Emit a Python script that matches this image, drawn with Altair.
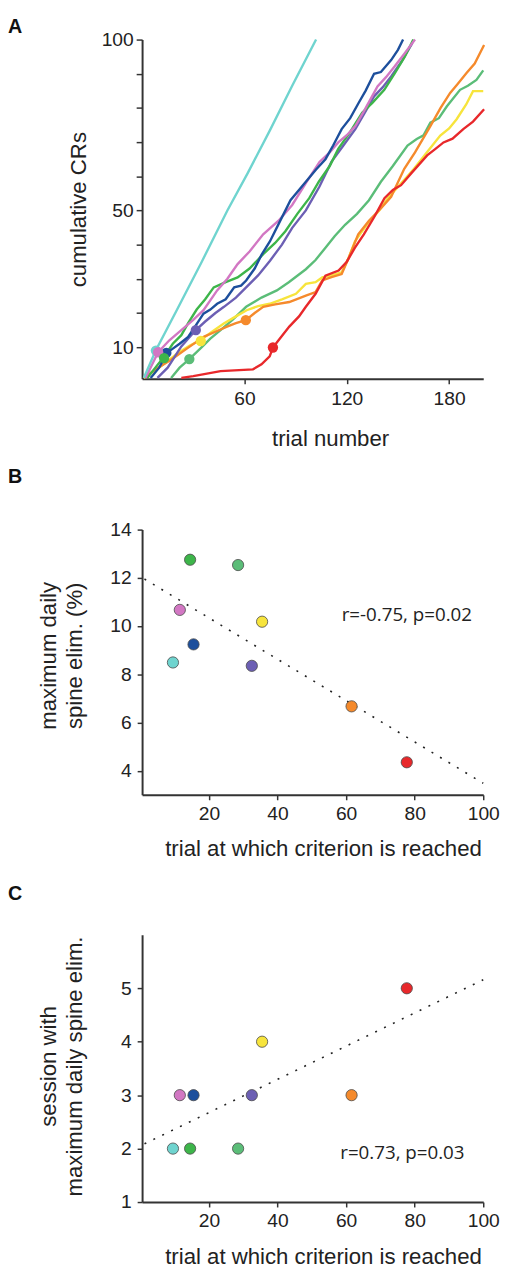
import altair as alt
import pandas as pd

# ---------------- data ----------------
animals = ["cyan", "blue", "pink", "green", "purple", "seagreen", "yellow", "orange", "red"]
colors = ["#6fd4cf", "#1d4f9c", "#d277c3", "#3db54a", "#6c5fb4", "#5bbd78", "#f7e43c", "#f58a2c", "#e8282b"]

# Panel A: cumulative CR curves (trial, cumulative CRs)
cyan_t = [1, 8, 20, 35, 50, 62, 75, 88, 102]
cyan_c = [1, 9, 20.5, 35, 50, 61, 73.5, 86.5, 100]
blue_t = [5, 10, 15, 17, 22, 27, 31, 36, 40, 44, 49, 54, 58, 61, 66, 70, 75, 80, 87, 96, 102, 107.5, 112, 117, 122, 127, 131, 136, 140, 146, 150, 153]
blue_c = [1, 4, 8.5, 9.2, 11, 13, 16, 19.8, 21, 22.7, 24, 27.5, 28, 29.5, 33, 37, 41, 46, 53, 58.4, 62, 65, 69, 73.8, 77, 81.5, 85, 90, 90.5, 94, 97, 100]
pink_t = [2, 9.4, 16, 23, 30, 36, 44, 50, 56, 63, 71, 80, 88, 96, 104, 110, 115, 120, 125, 130, 138, 143, 148, 154, 160]
pink_c = [1, 8.5, 12, 15, 18, 20.8, 26.6, 30, 34.3, 38, 43, 47, 51.6, 58, 64.2, 67, 69.9, 72, 74.7, 79, 86.3, 89, 92.1, 96, 100]
green_t = [3, 13, 18, 23, 27, 32, 37, 42, 49, 56, 63, 71, 78, 84, 91, 98, 103.6, 110, 115, 122, 129, 135, 142, 148, 154, 159]
green_c = [1, 7.3, 11, 13.5, 17, 21, 24, 27.5, 29, 30.4, 33, 37.2, 40.5, 43.9, 49, 53.6, 58.4, 63, 68, 73, 78.6, 81.5, 85.3, 90, 95, 100]
purple_t = [9, 15, 23, 31.5, 37, 43, 48, 55, 61, 68, 75, 82, 88, 96, 104, 111, 118, 125, 131, 136, 141, 146, 152, 158.5]
purple_c = [1, 4, 10.2, 15, 17.5, 20, 21.8, 24.5, 27.5, 31, 35.3, 40, 44.9, 50, 57, 64.2, 69, 73.8, 79, 83.4, 86, 89.2, 93.5, 99]
seagreen_t = [17, 22, 27.7, 35, 40, 46, 53, 61, 70, 79, 86, 96, 101.7, 107.5, 113, 119, 126, 133, 140, 147, 155.6, 161, 165, 169, 174, 178.7, 186.4, 191, 196, 200]
seagreen_c = [1, 4, 6.5, 10, 12.5, 15, 18, 21.8, 24.5, 26.6, 29, 32.8, 35.5, 39.1, 42.5, 45.8, 49, 53, 58.4, 63, 69, 70.9, 72, 75.7, 77, 80.5, 85.3, 86.5, 88.2, 91]
yellow_t = [1, 10, 21, 28, 34.4, 41, 47.9, 55, 61.3, 68, 74.8, 82, 90.2, 96, 101.7, 105.6, 111, 117, 121, 124.8, 132, 139, 144, 152, 159.4, 167, 174.8, 180, 184.4, 190, 194, 200]
yellow_c = [1, 4, 8.3, 10.5, 12.1, 14.5, 16.9, 19, 20.8, 22, 22.7, 24, 25.6, 28.5, 29, 30.4, 31, 31.9, 36, 41, 46, 50, 53.6, 58, 62.2, 67, 71.9, 74, 76.7, 81, 84.9, 84.9]
orange_t = [1, 8, 17, 26, 36.4, 43, 49.8, 55, 60.8, 66, 71, 78, 86.3, 96, 101.7, 105.6, 111, 117, 121, 126.7, 133, 140.2, 146, 153.7, 160, 169, 175, 180.6, 185, 190.2, 195, 200.5]
orange_c = [1, 3.5, 6.3, 9.5, 13.1, 14.5, 16, 17, 17.9, 20, 21.8, 22.5, 23.2, 25.1, 26.1, 29.5, 30.5, 31.4, 36, 43, 47, 50.7, 54, 62.2, 67, 74.7, 80, 84.4, 87, 90.2, 93, 98.4]
red_t = [23, 30, 46, 65, 70, 74.8, 76.7, 80, 86.3, 92, 96, 101.7, 107.5, 115.2, 120, 124.8, 130, 136, 142.1, 147, 151.8, 158, 167.1, 172, 176.7, 182, 188.3, 194, 200.5]
red_c = [1, 1.5, 3, 3.5, 5, 7.3, 9.9, 12, 16, 19, 21.8, 25.6, 30.9, 32.4, 35, 39.1, 43, 48, 53.6, 56, 57.4, 61, 66.1, 68, 69.9, 71, 73.8, 76, 79.6]

curves = {
    "cyan": (cyan_t, cyan_c), "blue": (blue_t, blue_c), "pink": (pink_t, pink_c),
    "green": (green_t, green_c), "purple": (purple_t, purple_c), "seagreen": (seagreen_t, seagreen_c),
    "yellow": (yellow_t, yellow_c), "orange": (orange_t, orange_c), "red": (red_t, red_c),
}
draw_order = ["seagreen", "yellow", "orange", "red", "purple", "green", "pink", "blue", "cyan"]

# criterion markers on the curves (panel A)
crit_dot_trial = [8.1, 14.2, 9.4, 12.9, 31.5, 27.7, 34.4, 60.8, 76.7]
crit_dot_cr = [9.0, 8.3, 8.5, 6.8, 15.0, 6.5, 11.8, 17.9, 9.9]

# Panels B and C
crit_trial = [9.5, 15.5, 11.5, 14.5, 32.5, 28.5, 35.5, 61.6, 77.7]
max_elim = [8.49, 9.24, 10.67, 12.75, 8.35, 12.53, 10.18, 6.67, 4.35]
session_max = [2, 3, 3, 2, 3, 2, 4, 3, 5]
fit_x = [1.2, 100]
fitB_y = [11.95, 3.48]
fitC_y = [2.09, 5.16]

# ---------------- tables ----------------
rows = []
for k, a in enumerate(draw_order):
    t, c = curves[a]
    for ti, ci in zip(t, c):
        rows.append({"animal": a, "trial": ti, "cr": ci, "z": k})
df_lines = pd.DataFrame(rows)
df_dotsA = pd.DataFrame({"animal": animals, "trial": crit_dot_trial, "cr": crit_dot_cr})
df_pts = pd.DataFrame({"animal": animals, "trial": crit_trial, "elim": max_elim, "session": session_max})
df_fitB = pd.DataFrame({"trial": fit_x, "v": fitB_y})
df_fitC = pd.DataFrame({"trial": fit_x, "v": fitC_y})

FONT = "Liberation Sans"
color_scale = alt.Scale(domain=animals, range=colors)
LET = dict(align="left", baseline="top", fontSize=20, fontWeight="bold", font=FONT, color="#111")
ANN = dict(align="center", baseline="middle", fontSize=19, font="Open Sans", color="#222")

# ---------------- panel A ----------------
WA, HA = 346, 344
xA = alt.X("trial:Q", scale=alt.Scale(domain=[0, 200], nice=False, zero=False),
           axis=alt.Axis(values=[60, 120, 180], tickSize=5, labelPadding=6, labelFlush=False,
                         title="trial number", titleX=190.7, titleY=68,
                         titleBaseline="alphabetic", titleAlign="center"))
yA = alt.Y("cr:Q", scale=alt.Scale(domain=[0.75, 100], nice=False, zero=False),
           axis=alt.Axis(values=list(range(10, 101, 10)), tickCount=20, labelOverlap=False, format="d",
                         labelExpr="(datum.value==10||datum.value==50||datum.value==100)?datum.label:''",
                         tickSize=6, labelPadding=3,
                         title="cumulative CRs", titleX=-57, titleY=172, titleAngle=270,
                         titleBaseline="alphabetic", titleAlign="center"))

linesA = alt.Chart(df_lines).mark_line(strokeWidth=2.4).encode(
    x=xA, y=yA,
    color=alt.Color("animal:N", scale=color_scale, legend=None),
    detail="animal:N", order=alt.Order("trial:Q"))
dotsA = alt.Chart(df_dotsA).mark_circle(size=110, opacity=1).encode(
    x="trial:Q", y="cr:Q",
    color=alt.Color("animal:N", scale=color_scale, legend=None))
letA = alt.Chart(pd.DataFrame({"lab": ["A"]})).mark_text(**LET).encode(
    text="lab:N", x=alt.value(-136), y=alt.value(-22.3))
panelA = alt.layer(linesA, dotsA, letA).properties(width=WA, height=HA)

# ---------------- panel B ----------------
WB, HB, TOPB = 346, 280, 11
xB = alt.X("trial:Q", scale=alt.Scale(domain=[0.5, 100], nice=False, zero=False),
           axis=alt.Axis(values=[20, 40, 60, 80, 100], tickSize=5, labelPadding=5, labelFlush=False,
                         title="trial at which criterion is reached", titleX=183.5, titleY=62,
                         titleBaseline="alphabetic", titleAlign="center"))
yB = alt.Y("elim:Q", scale=alt.Scale(domain=[3, 14], nice=False, zero=False, range=[HB, TOPB]),
           axis=alt.Axis(values=[4, 6, 8, 10, 12, 14], format="d", tickSize=5, labelPadding=6,
                         title=["maximum daily", "spine elim. (%)"], titleX=-88, titleY=138.5,
                         titleAngle=270, titleBaseline="alphabetic", titleAlign="center",
                         titleLineHeight=27))
fitB = alt.Chart(df_fitB).mark_line(strokeDash=[2, 8], strokeWidth=1.6, color="#222").encode(
    x=xB, y=alt.Y("v:Q", scale=alt.Scale(domain=[3, 14], nice=False, zero=False, range=[HB, TOPB])))
ptsB = alt.Chart(df_pts).mark_circle(size=130, opacity=1, stroke="#4a4a4a", strokeWidth=0.8).encode(
    x="trial:Q", y=yB, fill=alt.Fill("animal:N", scale=color_scale, legend=None))
txtB = alt.Chart(pd.DataFrame({"lab": ["r=-0.75, p=0.02"]})).mark_text(**ANN).encode(
    text="lab:N", x=alt.value(268.5), y=alt.value(TOPB + 87))
letB = alt.Chart(pd.DataFrame({"lab": ["B"]})).mark_text(**LET).encode(
    text="lab:N", x=alt.value(-136), y=alt.value(TOPB - 63))
panelB = alt.layer(fitB, ptsB, txtB, letB).properties(width=WB, height=HB)

# ---------------- panel C ----------------
WC, HC = 346, 271
xC = alt.X("trial:Q", scale=alt.Scale(domain=[0.5, 100], nice=False, zero=False),
           axis=alt.Axis(values=[20, 40, 60, 80, 100], tickSize=5, labelPadding=5, labelFlush=False,
                         title="trial at which criterion is reached", titleX=183.5, titleY=62,
                         titleBaseline="alphabetic", titleAlign="center"))
yC = alt.Y("session:Q", scale=alt.Scale(domain=[1, 6], nice=False, zero=False),
           axis=alt.Axis(values=[1, 2, 3, 4, 5], format="d", tickSize=5, labelPadding=6,
                         title=["session with", "maximum daily spine elim."], titleX=-88, titleY=133,
                         titleAngle=270, titleBaseline="alphabetic", titleAlign="center",
                         titleLineHeight=27))
fitC = alt.Chart(df_fitC).mark_line(strokeDash=[2, 8], strokeWidth=1.6, color="#222").encode(
    x=xC, y=alt.Y("v:Q", scale=alt.Scale(domain=[1, 6], nice=False, zero=False)))
ptsC = alt.Chart(df_pts).mark_circle(size=130, opacity=1, stroke="#4a4a4a", strokeWidth=0.8).encode(
    x="trial:Q", y=yC, fill=alt.Fill("animal:N", scale=color_scale, legend=None))
txtC = alt.Chart(pd.DataFrame({"lab": ["r=0.73, p=0.03"]})).mark_text(**ANN).encode(
    text="lab:N", x=alt.value(264), y=alt.value(221.6))
letC = alt.Chart(pd.DataFrame({"lab": ["C"]})).mark_text(**LET).encode(
    text="lab:N", x=alt.value(-136), y=alt.value(-51))
panelC = alt.layer(fitC, ptsC, txtC, letC).properties(width=WC, height=HC)

chart = alt.vconcat(panelA, panelB, panelC, spacing=142, bounds="flush").resolve_scale(
    x="independent", y="independent", color="shared", fill="shared"
).properties(padding=0).configure_view(stroke=None).configure_axis(
    domainColor="#333", domainWidth=2, tickColor="#333", tickWidth=1.5,
    labelColor="#222", labelFont=FONT, labelFontSize=19.5,
    titleColor="#222", titleFont=FONT, titleFontSize=22.5, titleFontWeight="normal",
    grid=False,
)

chart.save("out.html", embed_options={"renderer": "svg", "actions": False})
